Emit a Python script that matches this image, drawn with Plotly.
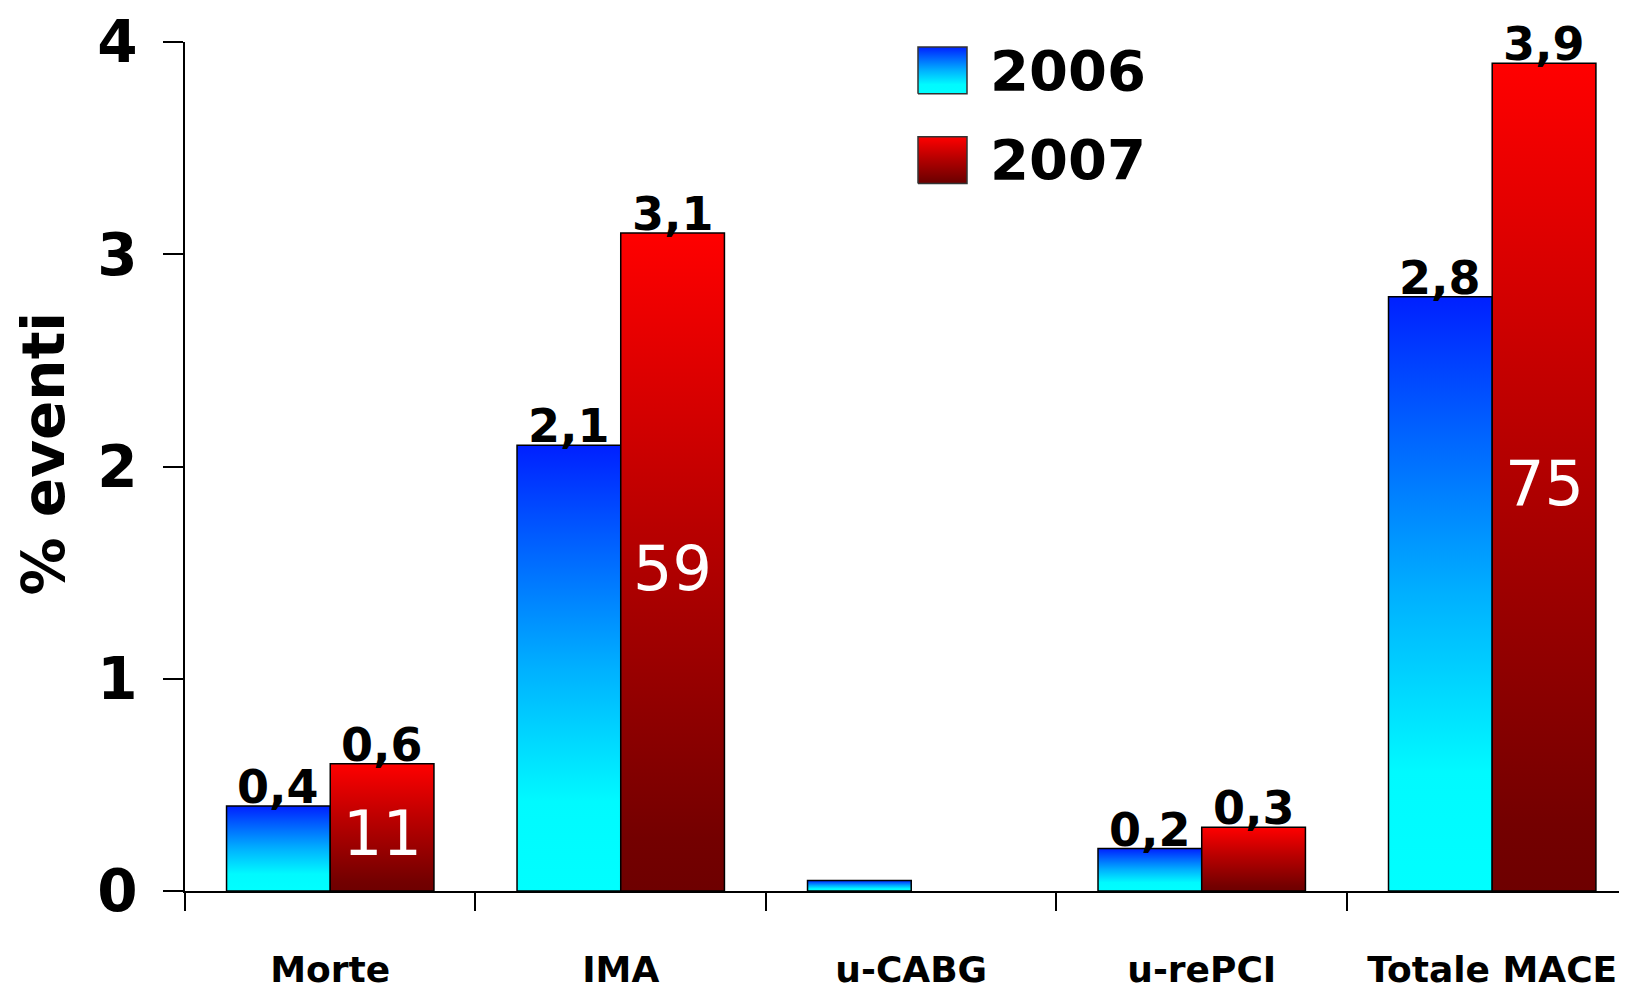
import plotly.graph_objects as go

categorie = ["Morte", "IMA", "u-CABG", "u-rePCI", "Totale MACE"]
anni = ["2006", "2007"]
valori_2006 = [0.4, 2.1, 0.05, 0.2, 2.8]
valori_2007 = [0.6, 3.1, 0.0, 0.3, 3.9]
etichette_2006 = ["0,4", "2,1", "", "0,2", "2,8"]
etichette_2007 = ["0,6", "3,1", "", "0,3", "3,9"]
interne_2007 = ["11", "59", "", "", "75"]
tick_y = [0, 1, 2, 3, 4]

FONT = "DejaVu Sans"
W = 0.357  # larghezza barra (unita' di categoria)

scala_blu = [[0, "#00FFFF"], [0.2, "#00FAFF"], [0.5, "#00B0FF"], [0.78, "#0060FF"], [1, "#0020FF"]]
scala_rossa = [[0, "#6E0000"], [0.08, "#740000"], [0.55, "#B80000"], [1, "#FF0000"]]

fig = go.Figure()


def barra(x0, v, scala):
    x1 = x0 + W
    fig.add_trace(go.Scatter(
        x=[x0, x0, x1, x1, x0], y=[0, v, v, 0, 0],
        mode="lines", fill="toself",
        fillgradient=dict(type="vertical", colorscale=scala),
        line=dict(color="black", width=1.5),
        showlegend=False, hoverinfo="skip"))


annotazioni = []
serie = [
    (valori_2006, etichette_2006, scala_blu, -W),
    (valori_2007, etichette_2007, scala_rossa, 0.0),
]
for valori, etichette, scala, off in serie:
    for i, v in enumerate(valori):
        if v <= 0:
            continue
        barra(i + off, v, scala)
        if etichette[i]:
            annotazioni.append(dict(
                x=i + off + W / 2, y=v, xref="x", yref="y", text=etichette[i],
                showarrow=False, yanchor="bottom", yshift=-10,
                font=dict(family=FONT, size=46, color="black", weight="bold")))

# numeri bianchi dentro le barre 2007
for i, t in enumerate(interne_2007):
    if t:
        annotazioni.append(dict(
            x=i + W / 2, y=valori_2007[i] / 2, xref="x", yref="y", text=t,
            showarrow=False, yshift=-6,
            font=dict(family=FONT, size=62, color="white")))

# legenda personalizzata (coordinate in pixel, asse secondario)
legenda = [(anni[0], scala_blu, 898, 945, 921), (anni[1], scala_rossa, 808, 855, 832)]
for nome, scala, y0, y1, yt in legenda:
    fig.add_trace(go.Scatter(
        x=[918, 918, 967, 967, 918], y=[y0, y1, y1, y0, y0],
        xaxis="x2", yaxis="y2", mode="lines", fill="toself",
        fillgradient=dict(type="vertical", colorscale=scala),
        line=dict(color="#333333", width=1.5),
        showlegend=False, hoverinfo="skip"))
    annotazioni.append(dict(
        x=988, y=yt, xref="x2", yref="y2", text=nome, showarrow=False,
        xanchor="left", yanchor="middle",
        font=dict(family=FONT, size=56, color="black", weight="bold")))

annotazioni.append(dict(
    x=-0.098, y=0.515, xref="paper", yref="paper", text="% eventi",
    showarrow=False, textangle=-90, xanchor="center", yanchor="middle",
    font=dict(family=FONT, size=58, color="black", weight="bold")))

# la pagina ha 8px di margine: la figura parte da (8, 8)
fig.update_layout(
    width=1619, height=982,
    margin=dict(l=177, r=0, t=32, b=90),
    plot_bgcolor="white", paper_bgcolor="white",
    showlegend=False,
    annotations=annotazioni,
    xaxis=dict(
        range=[-0.5, 4.464], tickvals=list(range(len(categorie))), ticktext=categorie,
        ticks="", showline=True, linecolor="black", linewidth=1.5,
        showgrid=False, zeroline=False, ticklabelstandoff=46,
        ticklabeloverflow="allow",
        tickfont=dict(family=FONT, size=36, color="black", weight="bold"),
        minor=dict(tickmode="linear", tick0=0.5, dtick=1, ticks="outside",
                   ticklen=18, tickwidth=1.5, tickcolor="black", showgrid=False)),
    yaxis=dict(
        range=[0, 4], tickvals=tick_y, ticks="outside", ticklen=20, tickwidth=1.5,
        tickcolor="black", showline=True, linecolor="black", linewidth=1.5,
        showgrid=False, zeroline=False, ticklabelstandoff=14,
        ticklabeloverflow="allow",
        tickfont=dict(family=FONT, size=58, color="black", weight="bold")),
    xaxis2=dict(overlaying="x", range=[185, 1627], visible=False, anchor="y2"),
    yaxis2=dict(overlaying="y", range=[98, 950], visible=False, anchor="x2"),
)

fig.write_html("out.html")
